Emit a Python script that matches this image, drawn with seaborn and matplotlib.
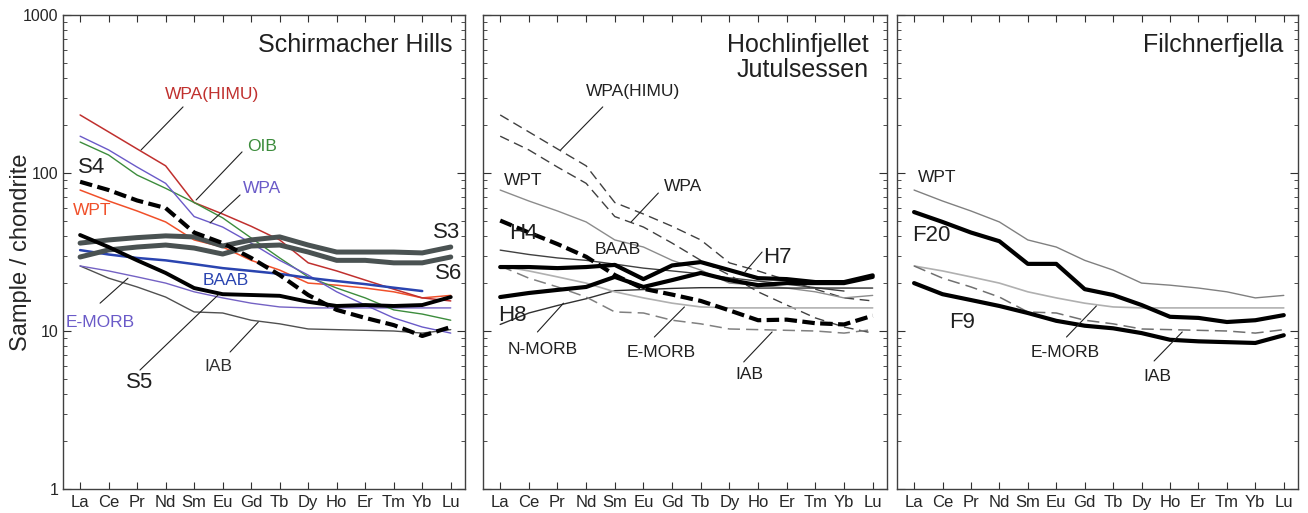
import numpy as np
import pandas as pd
import matplotlib
matplotlib.use("Agg")
import matplotlib.pyplot as plt
from matplotlib.ticker import LogLocator, NullFormatter, FixedLocator
import seaborn as sns

sns.set_style("ticks")
plt.rcParams['font.family'] = ['Liberation Sans', 'DejaVu Sans']

# REE elements on the x axis
elements = ['La', 'Ce', 'Pr', 'Nd', 'Sm', 'Eu', 'Gd', 'Tb', 'Dy', 'Ho', 'Er', 'Tm', 'Yb', 'Lu']

# reference compositions (chondrite normalised)
wpa_himu = [233, 182, 142, 111, 65, 55, 46, 37.7, 27, 24, 21, 18.4, 16.2, 15.5]
oib = [157, 130, 97, 80, 65, 52, 38.8, 29, 22, 18.7, 16.2, 13.6, 12.8, 11.7]
wpa = [171, 140, 109, 86, 53, 45.5, 36, 28, 22.6, 17.7, 14.6, 12.1, 10.6, 9.7]
wpt = [78, 66.5, 57.5, 49, 37.7, 34, 28, 24.3, 20.1, 19.5, 18.7, 17.7, 16.2, 16.8]
baab = [32.5, 30.5, 29, 28, 26.5, 25, 24, 23, 21.7, 20.7, 19.8, 18.8, 17.9, np.nan]
emorb = [25.8, 24, 22, 20.1, 17.7, 16.2, 15, 14.2, 14, 14, 14, 14, 14, 14]
iab = [25.8, 21.6, 19, 16.4, 13.2, 13, 11.7, 11.1, 10.3, 10.2, 10.1, 10, 9.7, 10.2]
nmorb = [11, 13, 14.5, 16, 18, 18.3, 18.6, 18.8, 18.8, 18.7, 18.7, 18.7, 18.7, 18.7]

# samples - Schirmacher Hills
s3 = [36, 37.7, 39, 40, 39.4, 34.5, 37.7, 39.4, 35, 31.6, 31.6, 31.6, 31.2, 34]
s6 = [29.4, 32.6, 34, 35, 33.5, 30.7, 34.5, 35, 31.6, 28, 28, 27, 27, 29.4]
s4 = [88, 78, 67, 60, 42, 36, 29, 22.6, 16.9, 13.6, 12.1, 10.9, 9.3, 10.6]
s5 = [40.5, 34, 28, 23.3, 18.7, 17.1, 16.9, 16.7, 15.3, 14.4, 14.6, 14.4, 14.6, 16.4]
# samples - Hochlinfjellet / Jutulsessen
h4 = [50, 42, 35.5, 29.5, 22.6, 18.5, 17, 15.5, 13.5, 11.7, 11.8, 11.2, 11, 12.5]
h7 = [25.4, 25.4, 25, 25.4, 26.2, 21.3, 26, 27.3, 24.3, 21.6, 21.3, 20.4, 20.4, 22.5]
h8 = [16.4, 17.4, 18.2, 19, 22, 19, 21, 23.3, 21, 19.5, 20.1, 20.1, 20.1, 22]
# samples - Filchnerfjella
f20 = [56.6, 49, 42, 37, 26.6, 26.6, 18.4, 16.9, 14.6, 12.3, 12.1, 11.4, 11.7, 12.6]
f9 = [20.1, 17.1, 15.7, 14.4, 13, 11.6, 10.8, 10.4, 9.7, 8.8, 8.6, 8.5, 8.4, 9.4]

xpos = np.arange(len(elements))

DASH_THICK = (0, (3, 1.3))
DASH_THIN = (0, (7, 4))
REF_FS = 12.5
SMP_FS = 16

# (values, color, linewidth, linestyle) per panel
panel1_lines = [
    (iab, '#505050', 1.0, '-'),
    (emorb, '#7462c4', 1.0, '-'),
    (wpt, '#f0502a', 1.1, '-'),
    (wpa_himu, '#c0302e', 1.1, '-'),
    (oib, '#3c8c3c', 1.0, '-'),
    (wpa, '#6a5ac8', 1.0, '-'),
    (baab, '#2a44b0', 1.8, '-'),
    (s3, '#4a5252', 3.6, '-'),
    (s6, '#4a5252', 3.6, '-'),
    (s4, 'black', 3.0, DASH_THICK),
    (s5, 'black', 2.8, '-'),
]
panel2_lines = [
    (wpa_himu, '#404040', 1.0, DASH_THIN),
    (wpa, '#404040', 1.0, DASH_THIN),
    (wpt, '#8c8c8c', 1.0, '-'),
    (baab, '#404040', 1.0, '-'),
    (nmorb, '#303030', 1.0, '-'),
    (emorb, '#b0b0b0', 1.2, '-'),
    (iab, '#808080', 1.1, (0, (8, 4))),
    (h4, 'black', 3.0, DASH_THICK),
    (h7, 'black', 3.0, '-'),
    (h8, 'black', 3.0, '-'),
]
panel3_lines = [
    (wpt, '#808080', 1.0, '-'),
    (emorb, '#b0b0b0', 1.2, '-'),
    (iab, '#707070', 1.1, (0, (8, 4))),
    (f20, 'black', 3.0, '-'),
    (f9, 'black', 3.0, '-'),
]

# labels: text, x, y, fontsize, color, leader (x0, y0, x1, y1)
panel1_labels = [
    ('WPA(HIMU)', 4.63, 312, REF_FS, '#c0302e', (3.61, 262, 2.14, 140)),
    ('OIB', 6.39, 148, REF_FS, '#3c8c3c', (5.68, 136, 4.07, 67.5)),
    ('WPA', 6.39, 80, REF_FS, '#6a5ac8', (5.61, 72.6, 4.56, 48.3)),
    ('S4', 0.42, 108, SMP_FS, '#202020', None),
    ('WPT', 0.42, 58.3, REF_FS, '#f0502a', None),
    ('S3', 12.84, 42.3, SMP_FS, '#202020', None),
    ('S6', 12.91, 23, SMP_FS, '#202020', None),
    ('BAAB', 5.12, 21, REF_FS, '#2a44b0', None),
    ('E-MORB', 0.7, 11.4, REF_FS, '#6a5ac8', (0.7, 15, 1.68, 21.6)),
    ('S5', 2.1, 4.69, SMP_FS, '#202020', (2.1, 5.66, 4.84, 16.9)),
    ('IAB', 4.84, 5.92, REF_FS, '#303030', (5.26, 7.36, 6.25, 11.4)),
]
panel2_labels = [
    ('WPA(HIMU)', 4.64, 326, REF_FS, '#202020', (3.58, 262, 2.11, 140)),
    ('WPT', 0.81, 90, REF_FS, '#202020', None),
    ('WPA', 6.39, 82.7, REF_FS, '#202020', (5.52, 74.7, 4.57, 49)),
    ('H4', 0.81, 41.7, SMP_FS, '#202020', None),
    ('BAAB', 4.11, 32.6, REF_FS, '#202020', None),
    ('H7', 9.66, 29.4, SMP_FS, '#202020', (9.14, 31.6, 8.54, 23.6)),
    ('H8', 0.42, 12.6, SMP_FS, '#202020', None),
    ('N-MORB', 1.48, 7.6, REF_FS, '#202020', (1.3, 9.86, 2.21, 15)),
    ('E-MORB', 5.62, 7.36, REF_FS, '#202020', (5.38, 9.16, 6.43, 14.2)),
    ('IAB', 8.71, 5.27, REF_FS, '#202020', (8.5, 6.37, 9.49, 9.86)),
]
panel3_labels = [
    ('WPT', 0.81, 93, REF_FS, '#202020', None),
    ('F20', 0.6, 40.5, SMP_FS, '#202020', None),
    ('F9', 1.68, 11.4, SMP_FS, '#202020', None),
    ('E-MORB', 5.33, 7.36, REF_FS, '#202020', (5.36, 9.16, 6.41, 14.4)),
    ('IAB', 8.55, 5.19, REF_FS, '#202020', (8.44, 6.46, 9.43, 9.86)),
]

titles = ['Schirmacher Hills', 'Hochlinfjellet\nJutulsessen', 'Filchnerfjella']
title_x = [0.968, 0.955, 0.963]

fig = plt.figure(figsize=(13.08, 5.13), dpi=100)
ax_boxes = [
    [63 / 1308, 24 / 513, 402 / 1308, 474 / 513],
    [483 / 1308, 24 / 513, 404 / 1308, 474 / 513],
    [897 / 1308, 24 / 513, 401 / 1308, 474 / 513],
]
panels = [(panel1_lines, panel1_labels), (panel2_lines, panel2_labels), (panel3_lines, panel3_labels)]

for i, (lines, labels) in enumerate(panels):
    ax = fig.add_axes(ax_boxes[i])
    for vals, color, lw, ls in lines:
        df = pd.DataFrame({'x': xpos, 'y': vals}).dropna()
        sns.lineplot(data=df, x='x', y='y', ax=ax, color=color, linewidth=lw,
                     linestyle=ls, sort=False, estimator=None)
    for txt, x, y, fs, col, lead in labels:
        ax.text(x, y, txt, fontsize=fs, color=col, ha='center', va='center')
        if lead is not None:
            ax.annotate('', xy=(lead[2], lead[3]), xytext=(lead[0], lead[1]),
                        arrowprops=dict(arrowstyle='-', lw=0.8, color='#202020',
                                        shrinkA=0, shrinkB=0))
    ax.set_yscale('log')
    ax.set_ylim(1, 1000)
    ax.set_xlim(-0.6, 13.5)
    ax.xaxis.set_major_locator(FixedLocator(xpos))
    ax.set_xticklabels(elements, fontsize=12)
    ax.yaxis.set_major_locator(LogLocator(base=10, numticks=10))
    ax.yaxis.set_minor_locator(LogLocator(base=10, subs=np.arange(2, 10), numticks=20))
    ax.yaxis.set_minor_formatter(NullFormatter())
    ax.tick_params(axis='both', which='both', direction='in', top=True, right=True,
                   color='#303030')
    ax.tick_params(axis='y', which='major', length=6, labelsize=11.5)
    ax.tick_params(axis='y', which='minor', length=3)
    ax.tick_params(axis='x', which='major', length=5, pad=4)
    if i == 0:
        ax.set_yticks([1, 10, 100, 1000])
        ax.set_yticklabels(['1', '10', '100', '1000'])
        ax.set_ylabel('Sample / chondrite', fontsize=17)
        ax.yaxis.set_label_coords(-0.077, 0.5)
    else:
        ax.set_yticklabels([])
        ax.set_ylabel('')
    ax.set_xlabel('')
    for sp in ax.spines.values():
        sp.set_color('#404040')
        sp.set_linewidth(1.0)
    ax.text(title_x[i], 0.963, titles[i], transform=ax.transAxes, ha='right', va='top',
            fontsize=18, color='#202020', linespacing=1.1)

fig.savefig('out.png', dpi=100)
